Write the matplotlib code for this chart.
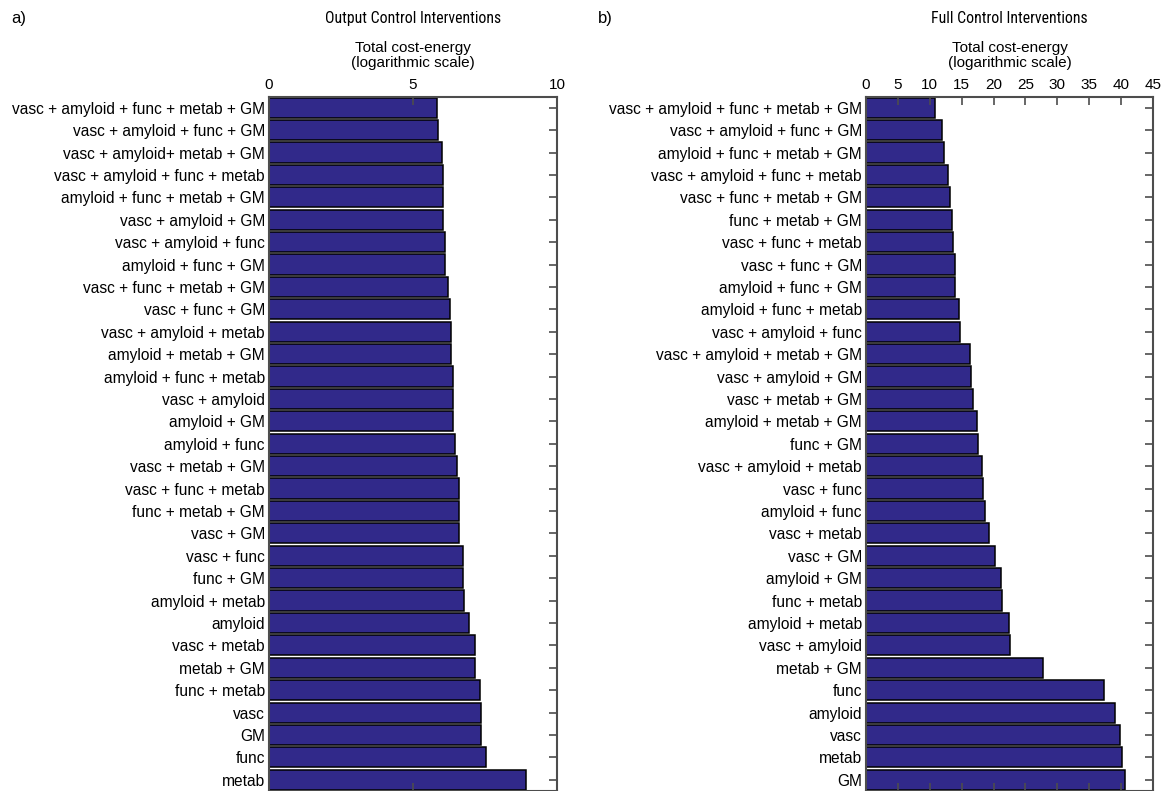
import matplotlib.pyplot as plt
from matplotlib import font_manager
from matplotlib.font_manager import FontProperties

plt.rcParams["font.family"] = ["Liberation Sans", "DejaVu Sans"]

# Output control interventions (panel a), sorted by cost
output_labels = [
    "vasc + amyloid + func + metab + GM",
    "vasc + amyloid + func + GM",
    "vasc + amyloid+ metab + GM",
    "vasc + amyloid + func + metab",
    "amyloid + func + metab + GM",
    "vasc + amyloid + GM",
    "vasc + amyloid + func",
    "amyloid + func + GM",
    "vasc + func + metab + GM",
    "vasc + func + GM",
    "vasc + amyloid + metab",
    "amyloid + metab + GM",
    "amyloid + func + metab",
    "vasc + amyloid",
    "amyloid + GM",
    "amyloid + func",
    "vasc + metab + GM",
    "vasc + func + metab",
    "func + metab + GM",
    "vasc + GM",
    "vasc + func",
    "func + GM",
    "amyloid + metab",
    "amyloid",
    "vasc + metab",
    "metab + GM",
    "func + metab",
    "vasc",
    "GM",
    "func",
    "metab",
]
output_values = [
    5.82, 5.86, 6.02, 6.04, 6.04, 6.05, 6.12, 6.10, 6.21, 6.29,
    6.32, 6.32, 6.39, 6.39, 6.39, 6.47, 6.52, 6.61, 6.61, 6.61,
    6.73, 6.73, 6.78, 6.93, 7.16, 7.15, 7.33, 7.35, 7.35, 7.55,
    8.93,
]

# Full control interventions (panel b)
full_labels = [
    "vasc + amyloid + func + metab + GM",
    "vasc + amyloid + func + GM",
    "amyloid + func + metab + GM",
    "vasc + amyloid + func + metab",
    "vasc + func + metab + GM",
    "func + metab + GM",
    "vasc + func + metab",
    "vasc + func + GM",
    "amyloid + func + GM",
    "amyloid + func + metab",
    "vasc + amyloid + func",
    "vasc + amyloid + metab + GM",
    "vasc + amyloid + GM",
    "vasc + metab + GM",
    "amyloid + metab + GM",
    "func + GM",
    "vasc + amyloid + metab",
    "vasc + func",
    "amyloid + func",
    "vasc + metab",
    "vasc + GM",
    "amyloid + GM",
    "func + metab",
    "amyloid + metab",
    "vasc + amyloid",
    "metab + GM",
    "func",
    "amyloid",
    "vasc",
    "metab",
    "GM",
]
full_values = [
    10.8, 11.9, 12.2, 12.8, 13.2, 13.5, 13.7, 13.9, 13.9, 14.6,
    14.8, 16.3, 16.5, 16.8, 17.4, 17.6, 18.2, 18.3, 18.6, 19.3,
    20.3, 21.1, 21.3, 22.4, 22.6, 27.8, 37.3, 39.1, 39.9, 40.2,
    40.6,
]

BAR_COLOR = "#31298a"
SPINE_COLOR = "#4d4d4d"


def narrow_title_font():
    # look for a condensed sans face for the panel titles
    narrow_names = ("Liberation Sans Narrow", "Arial Narrow",
                    "Roboto Condensed", "Open Sans Condensed")
    condensed = ("condensed", "semi-condensed", "extra-condensed", 75, 87, 62)
    fonts = font_manager.fontManager.ttflist
    for name in narrow_names:
        for f in fonts:
            if f.name == name and f.weight in (400, "normal", "regular") and f.style == "normal":
                return FontProperties(fname=f.fname, size=11.3), True
    for name in ("Liberation Sans", "Roboto", "Open Sans", "Noto Sans"):
        for f in fonts:
            if (f.name == name and f.stretch in condensed
                    and f.weight in (400, "normal", "regular") and f.style == "normal"):
                return FontProperties(fname=f.fname, size=11.3), True
    return FontProperties(family="Liberation Sans", size=10.6), False


title_font, is_narrow = narrow_title_font()

fig = plt.figure(figsize=(11.63, 7.91), dpi=100)
ax_a = fig.add_axes([0.2313, 0.0, 0.2476, 0.878])
ax_b = fig.add_axes([0.7446, 0.0, 0.2468, 0.878])


def draw_panel(ax, labels, values, xmax, xticks, title):
    ypos = list(range(len(labels)))
    ax.barh(ypos, values, height=0.9, color=BAR_COLOR,
            edgecolor="black", linewidth=1.1)
    ax.set_ylim(len(labels) - 0.5, -0.5)
    ax.set_xlim(0, xmax)
    ax.set_yticks(ypos)
    ax.set_yticklabels(labels, fontsize=11.2)
    ax.set_xticks(xticks)
    ax.set_xticklabels([str(t) for t in xticks], fontsize=11)
    ax.xaxis.tick_top()
    ax.tick_params(axis="x", which="both", direction="in", top=True,
                   bottom=True, labeltop=True, labelbottom=False,
                   length=6, width=1.2, color=SPINE_COLOR, pad=3)
    ax.tick_params(axis="y", direction="in", left=False, right=True,
                   labelleft=True, length=6, width=1.2, color=SPINE_COLOR,
                   pad=3)
    for spine in ax.spines.values():
        spine.set_color(SPINE_COLOR)
        spine.set_linewidth(1.5)
    ax.set_xlabel("Total cost-energy\n(logarithmic scale)", fontsize=11,
                  labelpad=8, linespacing=1.15)
    ax.xaxis.set_label_position("top")
    ax.set_title(title, fontproperties=title_font, pad=53)


draw_panel(ax_a, output_labels, output_values, 10, [0, 5, 10],
           "Output Control Interventions")
draw_panel(ax_b, full_labels, full_values, 45, list(range(0, 46, 5)),
           "Full Control Interventions")

fig.text(0.010, 0.977, "a)", fontsize=12, va="center", ha="left")
fig.text(0.514, 0.977, "b)", fontsize=12, va="center", ha="left")

fig.savefig("out.png", dpi=100, facecolor="white")
